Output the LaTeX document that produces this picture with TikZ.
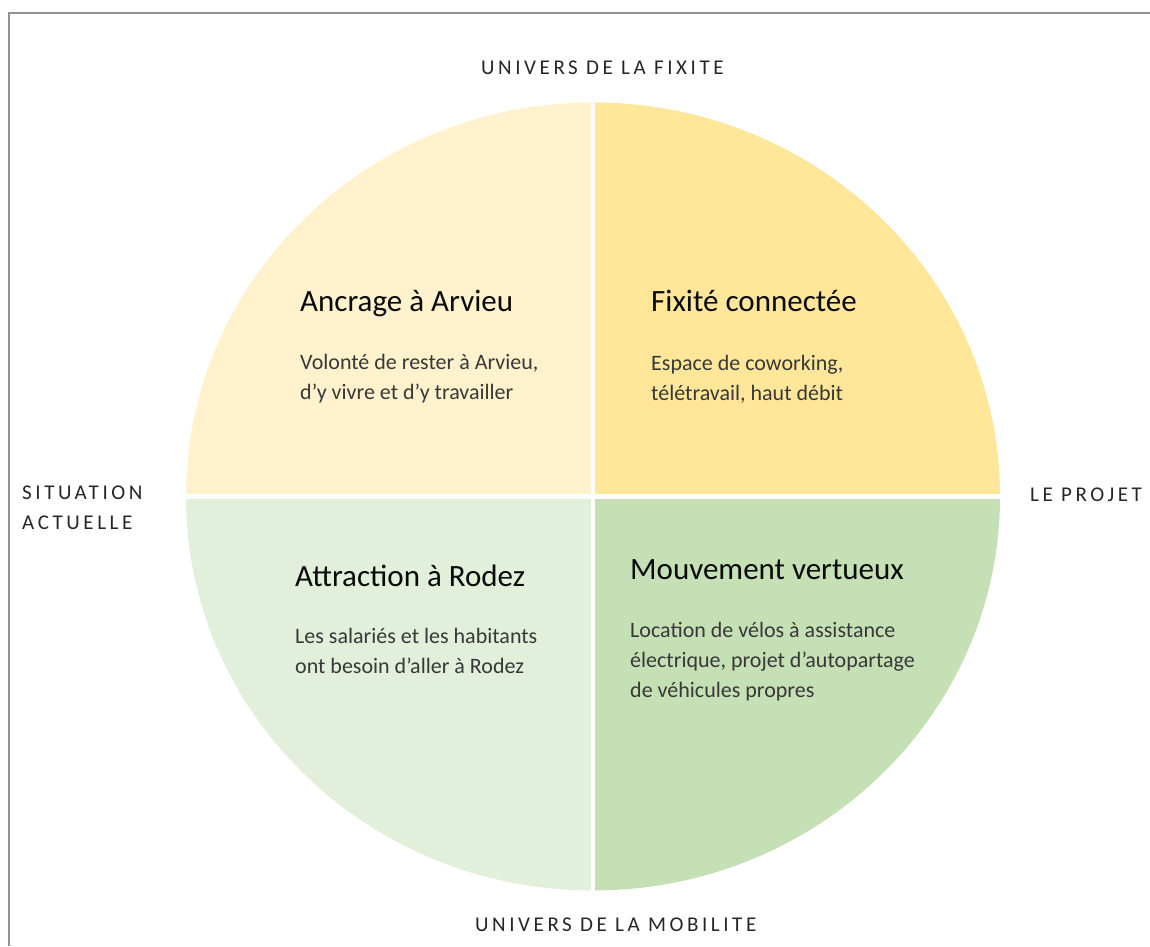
\documentclass[tikz,border=0pt]{standalone}
\usepackage{fontspec}
\setmainfont{Carlito}
\newfontfamily\lblfont[LetterSpace=17]{Carlito}
\definecolor{qa}{HTML}{FFF2CC}
\definecolor{qb}{HTML}{FFE699}
\definecolor{qc}{HTML}{E2EFDA}
\definecolor{qd}{HTML}{C5E0B4}
\definecolor{frame}{HTML}{939393}
\definecolor{ttl}{HTML}{0A0A0A}
\definecolor{bdy}{HTML}{383838}
\definecolor{lbl}{HTML}{262626}
\tikzset{
  ttlstyle/.style={anchor=base west, inner sep=0pt, text=ttl, font=\fontsize{31}{36}\selectfont},
  bdystyle/.style={anchor=base west, inner sep=0pt, text=bdy, align=left, font=\fontsize{22}{30}\selectfont},
  lblstyle/.style={anchor=base west, inner sep=0pt, text=lbl, align=left, font=\lblfont\fontsize{21}{30}\selectfont},
}
\begin{document}
\begin{tikzpicture}[x=1pt,y=1pt]
\useasboundingbox (0,0) rectangle (1150,-946);
\fill[white] (0,0) rectangle (1150,-946);
\draw[frame, line width=2pt] (9,-946) -- (9,-13) -- (1150,-13);
% quadrants
\coordinate (c) at (593,-496.5);
\fill[qa] (c) -- ++(-407,0) arc[start angle=180, end angle=90, x radius=407, y radius=394] -- cycle;
\fill[qb] (c) -- ++(0,394) arc[start angle=90, end angle=0, x radius=407, y radius=394] -- cycle;
\fill[qd] (c) -- ++(407,0) arc[start angle=0, end angle=-90, x radius=407, y radius=394] -- cycle;
\fill[qc] (c) -- ++(0,-394) arc[start angle=-90, end angle=-180, x radius=407, y radius=394] -- cycle;
\draw[white, line width=4.5pt] (c) ++(-420,0) -- ++(840,0);
\draw[white, line width=4.5pt] (c) ++(0,-410) -- ++(0,820);
% titles
\node[ttlstyle] (t1) at (300,-311.5) {Ancrage à Arvieu};
\node[bdystyle] (b1) at (300,-399) {Volonté de rester à Arvieu,\\d’y vivre et d’y travailler};
\node[ttlstyle] (t2) at (651,-311.5) {Fixité connectée};
\node[bdystyle] (b2) at (651,-400) {Espace de coworking,\\télétravail, haut débit};
\node[ttlstyle] (t3) at (295,-586.5) {Attraction à Rodez};
\node[bdystyle] (b3) at (295,-673) {Les salariés et les habitants\\ont besoin d’aller à Rodez};
\node[ttlstyle] (t4) at (630,-579.5) {Mouvement vertueux};
\node[bdystyle] (b4) at (630,-697) {Location de vélos à assistance\\électrique, projet d’autopartage\\de véhicules propres};
% labels
\node[lblstyle] (l1) at (481,-74) {UNIVERS DE LA FIXITE};
\node[lblstyle] (l2) at (475,-931) {UNIVERS DE LA MOBILITE};
\node[lblstyle] (l3) at (22,-529) {SITUATION\\ACTUELLE};
\node[lblstyle] (l4) at (1030,-501) {LE PROJET};
\end{tikzpicture}
\end{document}
